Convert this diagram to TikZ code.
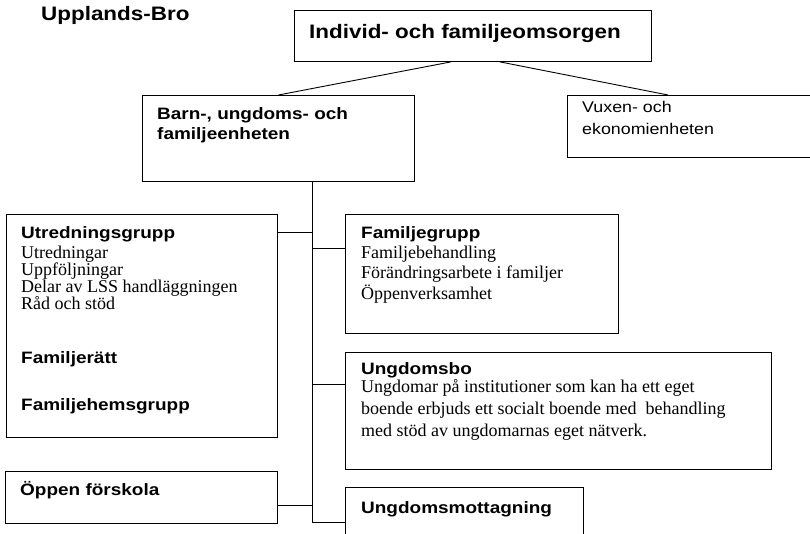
\documentclass[tikz,border=0pt]{standalone}
\usepackage{fontspec}
\setmainfont{Liberation Serif}
\newfontfamily\headsans[FakeStretch=1.15]{Liberation Sans}
\usetikzlibrary{positioning}
\tikzset{
  unit/.style={draw,line width=0.9pt,anchor=north west,inner sep=0pt},
  ttl/.style={anchor=base west,inner sep=0pt,font=\headsans\bfseries\fontsize{19.5}{22}\selectfont},
  grp/.style={anchor=base west,inner sep=0pt,align=left,font=\headsans\bfseries\fontsize{16.5}{20}\selectfont},
  plain/.style={anchor=base west,inner sep=0pt,align=left,font=\headsans\fontsize{15.5}{22}\selectfont},
  body/.style={anchor=base west,inner sep=0pt,align=left,font=\fontsize{18}{#1}\selectfont},
  ln/.style={line width=0.9pt}
}
\begin{document}
\begin{tikzpicture}[x=1pt,y=-1pt]
\useasboundingbox (0,0) rectangle (810,534);
\node[ttl] (town) at (41,21) {Upplands-Bro};
% boxes
\node[unit,minimum width=357pt,minimum height=51pt] (ifo) at (294,10) {};
\node[unit,minimum width=272pt,minimum height=86pt] (bue) at (142,95) {};
\node[unit,minimum width=260pt,minimum height=62pt] (vee) at (567,95) {};
\node[unit,minimum width=271pt,minimum height=223pt] (utr) at (6,214) {};
\node[unit,minimum width=273pt,minimum height=119pt] (fam) at (345,214) {};
\node[unit,minimum width=426pt,minimum height=117pt] (ubo) at (345,352) {};
\node[unit,minimum width=272pt,minimum height=52pt] (opf) at (5,471) {};
\node[unit,minimum width=238pt,minimum height=70pt] (umo) at (345,487) {};
% texts (multi-line nodes sit on their last baseline)
\node[ttl] (ifo-t) at (309,39) {Individ- och familjeomsorgen};
\node[grp] (bue-t) at (157,140) {Barn-, ungdoms- och\\familjeenheten};
\node[plain] (vee-t) at (582,135) {Vuxen- och\\ekonomienheten};
\node[grp] (utr-h) at (21,239) {Utredningsgrupp};
\node[body=17] (utr-b) at (21,309) {Utredningar\\Uppföljningar\\Delar av LSS handläggningen\\Råd och stöd};
\node[grp] (utr-fr) at (21,363) {Familjerätt};
\node[grp] (utr-fh) at (21,410) {Familjehemsgrupp};
\node[grp] (fam-h) at (361,239) {Familjegrupp};
\node[body=20.5] (fam-b) at (361,299) {Familjebehandling\\Förändringsarbete i familjer\\Öppenverksamhet};
\node[grp] (ubo-h) at (361,374) {Ungdomsbo};
\node[body=22] (ubo-b) at (361,436) {Ungdomar på institutioner som kan ha ett eget\\boende erbjuds ett socialt boende med\ \ behandling\\med stöd av ungdomarnas eget nätverk.};
\node[grp] (opf-t) at (20,495) {Öppen förskola};
\node[grp] (umo-t) at (361,513) {Ungdomsmottagning};
% connectors
\draw[ln] ([xshift=-22pt]ifo.south) -- (bue.north);
\draw[ln] ([xshift=27pt]ifo.south) -- ([xshift=101pt]vee.north west);
\coordinate (trk) at ([xshift=34pt]bue.south);
\draw[ln] (trk) |- ([yshift=-35pt]umo.north west);
\coordinate (b1) at ([yshift=-18pt]utr.north east);
\coordinate (b2) at ([yshift=-34pt]fam.north west);
\coordinate (b3) at ([yshift=-32pt]ubo.north west);
\coordinate (b4) at ([yshift=-34pt]opf.north east);
\foreach \b in {b1,b2,b3,b4}{\draw[ln] (\b) -- (\b -| trk);}
\end{tikzpicture}
\end{document}
